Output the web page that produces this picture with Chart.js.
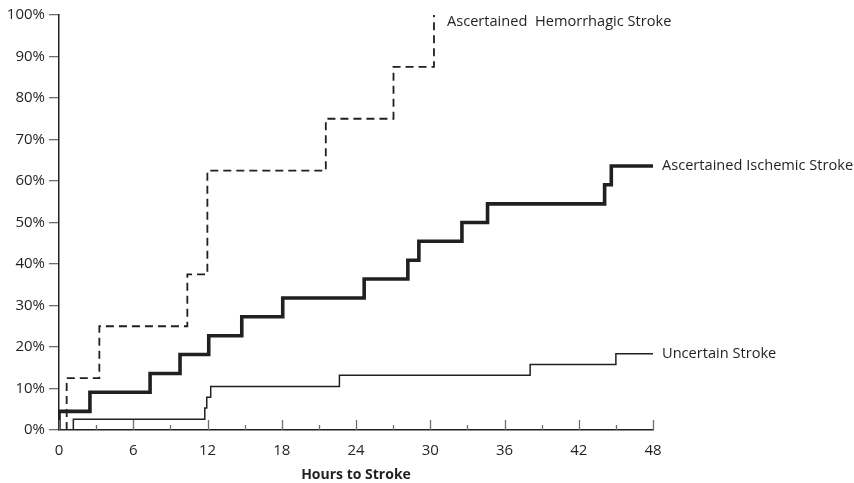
<!DOCTYPE html>
<html>
<head>
<meta charset="utf-8">
<script src="https://cdn.jsdelivr.net/npm/chart.js@4/dist/chart.umd.min.js"></script>
<style>
  html, body { margin: 0; padding: 0; background: #fff; }
  #wrap { width: 854px; height: 483px; }
</style>
</head>
<body>
<div id="wrap"><canvas id="strokeChart" width="854" height="483"></canvas></div>
<script>
// cumulative % of strokes by hours (step changes)
const hemHours = [0.62, 0.62, 3.26, 10.37, 11.99, 21.56, 27.03, 30.3];
const hemPct   = [0, 12.5, 25, 37.5, 62.5, 75, 87.5, 100];

const ischHours = [0, 0, 2.5, 7.36, 9.78, 12.1, 14.77, 18.08, 24.66, 28.19, 29.08, 32.56, 34.63, 44.09, 44.63, 48];
const ischPct   = [0, 4.5, 9.1, 13.6, 18.2, 22.7, 27.3, 31.8, 36.4, 40.9, 45.5, 50, 54.5, 59.1, 63.6, 63.6];

const uncHours = [1.16, 1.16, 11.78, 11.94, 12.26, 22.66, 38.07, 45, 48];
const uncPct   = [0, 2.6, 5.3, 7.9, 10.5, 13.2, 15.8, 18.4, 18.4];

const seriesNames = ['Ascertained  Hemorrhagic Stroke', 'Ascertained Ischemic Stroke', 'Uncertain Stroke'];

const INK = '#231f20';
const FONT = "'Open Sans', sans-serif";

function toPoints(xs, ys) {
  return xs.map((x, i) => ({ x, y: ys[i] }));
}

// small tick marks on the x axis, pointing up into the plot
const innerTicks = {
  id: 'innerTicks',
  afterDraw(chart) {
    const x = chart.scales.x;
    const ctx = chart.ctx;
    const bottom = chart.chartArea.bottom;
    ctx.save();
    ctx.strokeStyle = '#6d6e71';
    ctx.lineWidth = 1.3;
    x.ticks.forEach(t => {
      const px = Math.round(x.getPixelForValue(t.value)) + 0.5;
      const len = t.value % 6 === 0 ? 10 : 5;
      ctx.beginPath();
      ctx.moveTo(px, bottom);
      ctx.lineTo(px, bottom - len);
      ctx.stroke();
    });
    ctx.restore();
  }
};

// series names written at the end of each line
const endLabels = {
  id: 'endLabels',
  afterDatasetsDraw(chart) {
    const ctx = chart.ctx;
    ctx.save();
    ctx.font = '14.6px ' + FONT;
    ctx.fillStyle = INK;
    ctx.textBaseline = 'middle';
    ctx.textAlign = 'left';
    chart.data.datasets.forEach((ds, i) => {
      const pts = chart.getDatasetMeta(i).data;
      const last = pts[pts.length - 1];
      const dx = i === 0 ? 13 : 9;
      const dy = i === 0 ? 7 : 0;
      ctx.fillText(seriesNames[i], last.x + dx, last.y + dy);
    });
    ctx.restore();
  }
};

const ctx = document.getElementById('strokeChart').getContext('2d');
new Chart(ctx, {
  type: 'line',
  data: {
    datasets: [
      {
        label: seriesNames[0],
        data: toPoints(hemHours, hemPct),
        stepped: 'before',
        borderColor: INK,
        borderWidth: 1.8,
        borderDash: [8, 5],
        pointRadius: 0,
        fill: false
      },
      {
        label: seriesNames[1],
        data: toPoints(ischHours, ischPct),
        stepped: 'before',
        borderColor: INK,
        borderWidth: 3.6,
        pointRadius: 0,
        fill: false
      },
      {
        label: seriesNames[2],
        data: toPoints(uncHours, uncPct),
        stepped: 'before',
        borderColor: INK,
        borderWidth: 1.5,
        pointRadius: 0,
        fill: false
      }
    ]
  },
  options: {
    responsive: false,
    animation: false,
    layout: { padding: { left: 0, right: 201, top: 15, bottom: 0 } },
    plugins: {
      legend: { display: false },
      tooltip: { enabled: false }
    },
    scales: {
      x: {
        type: 'linear',
        min: 0,
        max: 48,
        afterFit: s => { s.height = 53; },
        border: { display: true, color: INK, width: 1.5 },
        grid: { drawOnChartArea: false, drawTicks: false },
        ticks: {
          stepSize: 3,
          autoSkip: false,
          maxRotation: 0,
          padding: 12,
          color: INK,
          font: { family: FONT, size: 15 },
          callback: v => (v % 6 === 0 ? v : '')
        },
        title: {
          display: true,
          text: 'Hours to Stroke',
          color: INK,
          font: { family: FONT, size: 14, weight: 'bold' },
          padding: { top: 2, bottom: 0 }
        }
      },
      y: {
        min: 0,
        max: 100,
        afterFit: s => { s.width = 59; },
        border: { display: true, color: INK, width: 1.5 },
        grid: { drawOnChartArea: false, drawTicks: true, tickLength: 10, color: '#6d6e71', lineWidth: 1.3 },
        ticks: {
          stepSize: 10,
          padding: 4,
          color: INK,
          font: { family: FONT, size: 15 },
          callback: v => v + '%'
        }
      }
    }
  },
  plugins: [innerTicks, endLabels]
});
</script>
</body>
</html>
